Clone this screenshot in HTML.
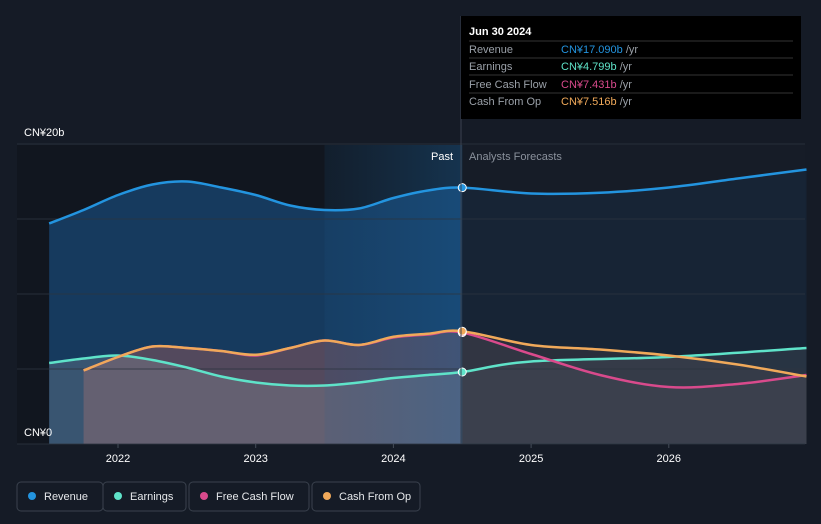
<!DOCTYPE html>
<html><head><meta charset="utf-8"><style>
html,body{margin:0;padding:0;background:#151b26;width:821px;height:524px;overflow:hidden;font-family:"Liberation Sans",sans-serif}
svg{display:block}
</style></head><body>
<svg id="chart" width="821" height="524" xmlns="http://www.w3.org/2000/svg">
<defs>
<clipPath id="cPast"><rect x="0" y="0" width="461" height="524"/></clipPath>
<clipPath id="cFut"><rect x="461" y="0" width="400" height="524"/></clipPath>
<linearGradient id="gHi" x1="0" y1="0" x2="1" y2="0"><stop offset="0" stop-color="#1d5f94" stop-opacity="0.12"/><stop offset="1" stop-color="#1d6aa8" stop-opacity="0.35"/></linearGradient>
</defs>
<rect x="0" y="0" width="821" height="524" fill="#151b26"/>
<rect x="17" y="145" width="444" height="299" fill="#11161f"/>
<rect x="461" y="145" width="344" height="299" fill="#161c27"/>
<g id="areas"></g>
<rect id="hi" fill="url(#gHi)"/>
<g id="grid"></g>
<g id="lines"></g>
<g id="axis"></g>
<line x1="461" y1="16" x2="461" y2="444" stroke="#3a4250" stroke-width="1"/>
<text x="453" y="160" fill="#fff" font-size="11" text-anchor="end">Past</text>
<text x="469" y="160" fill="#8a919c" font-size="11">Analysts Forecasts</text>
<text x="24" y="136" fill="#fff" font-size="11">CN¥20b</text>
<text x="24" y="436" fill="#fff" font-size="11">CN¥0</text>
<g>
<rect x="461" y="16" width="340" height="103" fill="#000"/>
<text x="469" y="35" fill="#fff" font-size="11" font-weight="bold">Jun 30 2024</text>
<line x1="469" y1="41" x2="793" y2="41" stroke="#333"/>
<text x="469" y="53" fill="#9aa0a8" font-size="11">Revenue</text><text x="561" y="53" fill="#2394df" font-size="11">CN¥17.090b <tspan fill="#9aa0a8">/yr</tspan></text>
<line x1="469" y1="58" x2="793" y2="58" stroke="#333"/>
<text x="469" y="70" fill="#9aa0a8" font-size="11">Earnings</text><text x="561" y="70" fill="#5fe3c9" font-size="11">CN¥4.799b <tspan fill="#9aa0a8">/yr</tspan></text>
<line x1="469" y1="75" x2="793" y2="75" stroke="#333"/>
<text x="469" y="88" fill="#9aa0a8" font-size="11">Free Cash Flow</text><text x="561" y="88" fill="#d94a8c" font-size="11">CN¥7.431b <tspan fill="#9aa0a8">/yr</tspan></text>
<line x1="469" y1="93" x2="793" y2="93" stroke="#333"/>
<text x="469" y="105" fill="#9aa0a8" font-size="11">Cash From Op</text><text x="561" y="105" fill="#f0a95a" font-size="11">CN¥7.516b <tspan fill="#9aa0a8">/yr</tspan></text>
</g>
<g id="legend"></g>
</svg>
<script>
const revT=[2021.5,2021.75,2022,2022.25,2022.5,2022.75,2023,2023.25,2023.5,2023.75,2024,2024.25,2024.5,2025,2025.5,2026,2026.5,2027];
const revV=[14.7,15.6,16.6,17.3,17.5,17.1,16.6,15.9,15.6,15.7,16.4,16.9,17.09,16.7,16.75,17.1,17.7,18.3];
const earnT=[2021.5,2021.75,2022,2022.25,2022.5,2022.75,2023,2023.25,2023.5,2023.75,2024,2024.25,2024.5,2025,2026,2027];
const earnV=[5.4,5.7,5.9,5.6,5.1,4.5,4.1,3.9,3.9,4.1,4.4,4.6,4.8,5.5,5.8,6.4];
const fcfT=[2021.75,2022,2022.25,2022.5,2022.75,2023,2023.25,2023.5,2023.75,2024,2024.25,2024.5,2025,2025.5,2026,2026.5,2027];
const fcfV=[4.9,5.8,6.5,6.4,6.2,5.9,6.4,6.9,6.6,7.1,7.3,7.43,6.0,4.6,3.8,4.0,4.6];
const cfoT=[2021.75,2022,2022.25,2022.5,2022.75,2023,2023.25,2023.5,2023.75,2024,2024.25,2024.5,2025,2025.5,2026,2026.5,2027];
const cfoV=[4.9,5.8,6.5,6.4,6.2,5.95,6.4,6.9,6.6,7.15,7.35,7.52,6.6,6.3,5.9,5.3,4.5];
const xTicks=[2022,2023,2024,2025,2026];
const yGrid=[0,5,10,15,20];
const NOW=2024.5;
const X=t=>118+(t-2022)*137.7, Y=v=>444-v*15;
const NS='http://www.w3.org/2000/svg';
function mk(tag,attrs,parent){const e=document.createElementNS(NS,tag);for(const k in attrs)e.setAttribute(k,attrs[k]);parent.appendChild(e);return e;}
function path(T,V){let p=T.map((t,i)=>[X(t),Y(V[i])]);let d='M'+p[0][0]+','+p[0][1];
for(let i=0;i<p.length-1;i++){const p0=p[i-1]||p[i],p1=p[i],p2=p[i+1],p3=p[i+2]||p2;
d+=` C${p1[0]+(p2[0]-p0[0])/6},${p1[1]+(p2[1]-p0[1])/6} ${p2[0]-(p3[0]-p1[0])/6},${p2[1]-(p3[1]-p1[1])/6} ${p2[0]},${p2[1]}`;}return d;}
const grid=document.getElementById('grid'),areas=document.getElementById('areas'),lines=document.getElementById('lines'),axis=document.getElementById('axis');
yGrid.forEach(v=>{const l=mk('line',{x1:17,x2:805,y1:Y(v),y2:Y(v),stroke:'#2c3440','stroke-width':1,'stroke-opacity':0.8},grid);

});
xTicks.forEach(t=>{const tx=mk('text',{x:X(t),y:462,fill:'#fff','font-size':11,'text-anchor':'middle'},axis);tx.textContent=t;


const tk=mk('line',{x1:X(t),x2:X(t),y1:444,y2:448,stroke:'#444c58'},axis);

});
const hi=document.getElementById('hi');hi.setAttribute('x',X(2023.5));hi.setAttribute('y',145);hi.setAttribute('width',X(NOW)-X(2023.5));hi.setAttribute('height',299);
const series=[
 {T:revT,V:revV,c:'#2394df',pf:'rgba(30,110,180,0.42)',ff:'rgba(35,100,160,0.12)',n:'revenue'},
 {T:cfoT,V:cfoV,c:'#f0a95a',pf:'rgba(200,110,90,0.28)',ff:'rgba(110,80,80,0.22)',n:'cash-from-op'},
 {T:fcfT,V:fcfV,c:'#d94a8c',pf:'rgba(170,80,110,0.12)',ff:'rgba(90,90,100,0.18)',n:'free-cash-flow'},
 {T:earnT,V:earnV,c:'#5fe3c9',pf:'rgba(140,150,160,0.3)',ff:'rgba(90,100,110,0.25)',n:'earnings'}];
series.forEach(s=>{
 const d=path(s.T,s.V)+` L${X(s.T[s.T.length-1])},444 L${X(s.T[0])},444 Z`;
 const a=mk('path',{d:d,fill:s.pf,'clip-path':'url(#cPast)'},areas);
 
 
 const b=mk('path',{d:d,fill:s.ff,'clip-path':'url(#cFut)'},areas);
 
 
});
series.slice().reverse().forEach(s=>{
 const l=mk('path',{d:path(s.T,s.V),fill:'none',stroke:s.c,'stroke-width':2.5},lines);
 
 
});
series.slice().reverse().forEach(s=>{
 const i=s.T.indexOf(NOW);
 const dot=mk('circle',{cx:X(NOW),cy:Y(s.V[i]),r:4,fill:s.c,stroke:'#fff','stroke-width':1},lines);
 
 
});
const leg=document.getElementById('legend');
const li=[['Revenue','#2394df',17,86],['Earnings','#5fe3c9',103,83],['Free Cash Flow','#d94a8c',189,120],['Cash From Op','#f0a95a',312,108]];
li.forEach(([t,c,x,w])=>{const g=mk('g',{},leg);
 
 
 mk('rect',{x:x,y:482,width:w,height:29,rx:4,fill:'none',stroke:'#3a414d'},g);
 mk('circle',{cx:x+15,cy:496,r:4,fill:c},g);
 const tx=mk('text',{x:x+27,y:500,fill:'#e6e8eb','font-size':11},g);tx.textContent=t;});
</script>
</body></html>
